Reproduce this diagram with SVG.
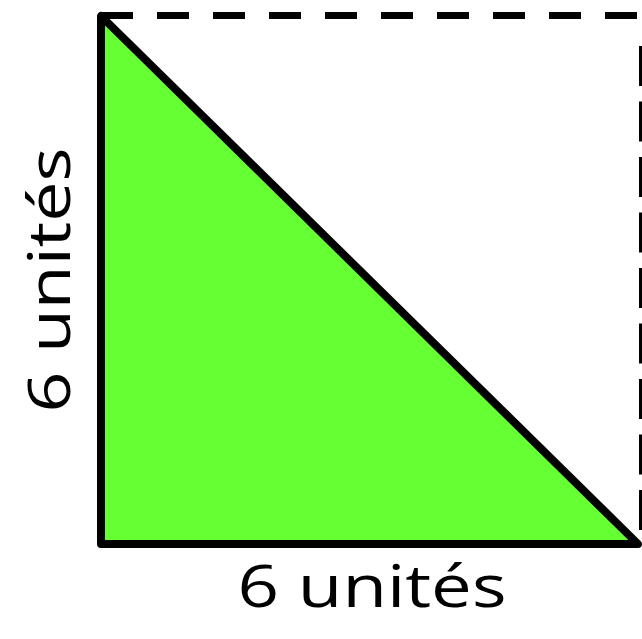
<svg xmlns="http://www.w3.org/2000/svg" width="642" height="639" viewBox="0 0 642 639">
<style>
.lbl{font-family:"Open Sans","Liberation Sans",sans-serif;font-size:58px;fill:#000}
</style>
<rect width="642" height="639" fill="#fff"/>
<g id="frame">
<line x1="101" y1="15.5" x2="641" y2="15.5" stroke="#000" stroke-width="7" stroke-dasharray="32 24"/>
<line x1="640.5" y1="46" x2="640.5" y2="545" stroke="#000" stroke-width="3" stroke-dasharray="40 15.5"/>
</g>
<g id="triangle">
<polygon points="101,16 101,544 638,544" fill="#66ff33" stroke="#000" stroke-width="8" stroke-linejoin="round"/>
</g>
<g id="label-bottom">
<text class="lbl" x="372" y="607" text-anchor="middle" textLength="269" lengthAdjust="spacingAndGlyphs">6 unités</text>
</g>
<g id="label-left">
<text class="lbl" transform="translate(70,280) rotate(-90)" x="0" y="0" text-anchor="middle" textLength="265" lengthAdjust="spacingAndGlyphs">6 unités</text>
</g>
</svg>
